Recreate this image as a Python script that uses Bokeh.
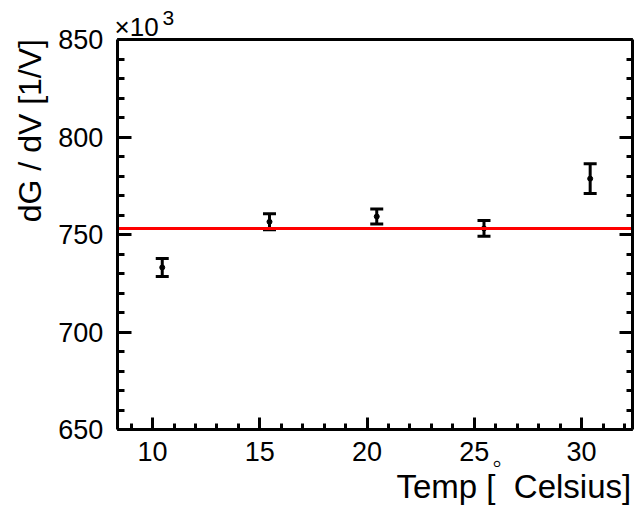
from bokeh.plotting import figure
from bokeh.models import (ColumnDataSource, Range1d, Whisker, TeeHead, Label,
                          LinearAxis, SingleIntervalTicker, CustomJSTickFormatter)
from bokeh.embed import file_html
from bokeh.resources import INLINE
import math

# ---- data ----
temps = [10.45, 15.45, 20.45, 25.45, 30.4]
dgdv = [733.2, 756.6, 759.3, 753.2, 778.7]        # x10^3
dgdv_err = [4.6, 4.1, 3.9, 4.0, 7.6]
fit_value = 753.2
x_ticks_interval = 5
y_ticks_interval = 50
x_title = "Temp [\u00a0\u00a0Celsius]"
y_title = "dG / dV [1/V]"

# axis (data) limits of the drawn box
X_MIN, X_MAX = 8.35, 32.35
Y_MIN, Y_MAX = 650.0, 850.0

# ---- layout (pixels) ----
W, H = 636, 508
PX_LEFT, PX_RIGHT, PX_TOP, PX_BOTTOM = 116.7, 631.5, 39.0, 429.3
FONT = "Liberation Sans"

sx = (PX_RIGHT - PX_LEFT) / (X_MAX - X_MIN)
sy = (PX_BOTTOM - PX_TOP) / (Y_MAX - Y_MIN)
x_start = X_MIN - PX_LEFT / sx
x_end = X_MAX + (W - PX_RIGHT) / sx
y_end = Y_MAX + PX_TOP / sy
y_start = Y_MIN - (H - PX_BOTTOM) / sy

src = ColumnDataSource(dict(
    x=temps, y=dgdv,
    lo=[v - e for v, e in zip(dgdv, dgdv_err)],
    hi=[v + e for v, e in zip(dgdv, dgdv_err)],
))

p = figure(width=W, height=H, output_backend="svg", toolbar_location=None,
           x_range=Range1d(x_start, x_end), y_range=Range1d(y_start, y_end),
           x_axis_location=None, y_axis_location=None,
           min_border=0, min_border_left=0, min_border_right=0,
           min_border_top=0, min_border_bottom=0)
p.grid.visible = False
p.outline_line_color = None
p.background_fill_color = "white"
p.border_fill_color = "white"

def style_axis(ax, maj_in, min_in, labels=True):
    ax.axis_line_width = 3
    ax.axis_line_color = "black"
    ax.major_tick_in = maj_in
    ax.major_tick_out = 0
    ax.minor_tick_in = min_in
    ax.minor_tick_out = 0
    ax.major_tick_line_width = 3
    ax.minor_tick_line_width = 3
    ax.major_tick_line_color = "black" if maj_in else None
    ax.minor_tick_line_color = "black" if min_in else None
    if labels:
        ax.major_label_text_font = FONT
        ax.major_label_text_font_size = "27px"
        ax.major_label_text_color = "black"
    else:
        ax.major_label_text_font_size = "0px"
        ax.major_label_standoff = 0
        ax.formatter = CustomJSTickFormatter(code="return ''")

xax = LinearAxis(ticker=SingleIntervalTicker(interval=x_ticks_interval, num_minor_ticks=5),
                 fixed_location=Y_MIN, bounds=(X_MIN, X_MAX))
style_axis(xax, 12, 6)
xax.major_label_standoff = 12
p.add_layout(xax, "below")

tax = LinearAxis(ticker=SingleIntervalTicker(interval=x_ticks_interval, num_minor_ticks=5),
                 fixed_location=Y_MAX, bounds=(X_MIN, X_MAX))
style_axis(tax, 0, 0, labels=False)
p.add_layout(tax, "above")

yax = LinearAxis(ticker=SingleIntervalTicker(interval=y_ticks_interval, num_minor_ticks=5),
                 fixed_location=X_MIN, bounds=(Y_MIN, Y_MAX))
style_axis(yax, 14, 7)
yax.major_label_standoff = 14
p.add_layout(yax, "left")

rax = LinearAxis(ticker=SingleIntervalTicker(interval=y_ticks_interval, num_minor_ticks=5),
                 fixed_location=X_MAX, bounds=(Y_MIN, Y_MAX))
style_axis(rax, 13, 6, labels=False)
p.add_layout(rax, "right")

# error bars
w = Whisker(source=src, base="x", lower="lo", upper="hi", dimension="height",
            line_width=3, line_color="black", level="underlay",
            upper_head=TeeHead(size=13, line_width=3, line_color="black"),
            lower_head=TeeHead(size=13, line_width=3, line_color="black"))
p.add_layout(w)
p.scatter("x", "y", source=src, size=5, color="black")

# fit line (constant fit over the axis range)
p.segment(x0=[X_MIN], x1=[X_MAX], y0=[fit_value], y1=[fit_value],
          line_color="#ff0000", line_width=3)

def lab(text, x, y, size, align="left", angle=0.0):
    # y is the vertical centre of the text line (canvas pixels from the top)
    p.add_layout(Label(x=x, y=y, x_units="canvas", y_units="canvas", text=text,
                       text_font=FONT, text_font_size=size, text_color="black",
                       text_align=align, text_baseline="alphabetic", angle=angle,
                       level="overlay"))

lab(x_title, 630.7, 485.5, "33px", align="right")
lab("\u25e6", 496.7, 462.5, "26px", align="center")
lab(y_title, 29.5, 38.5, "32px", align="right", angle=math.pi / 2)
lab("\u00d710", 114, 26.5, "26px")
lab("3", 162, 17.5, "21px")

open("out.html", "w").write(file_html(p, INLINE))
